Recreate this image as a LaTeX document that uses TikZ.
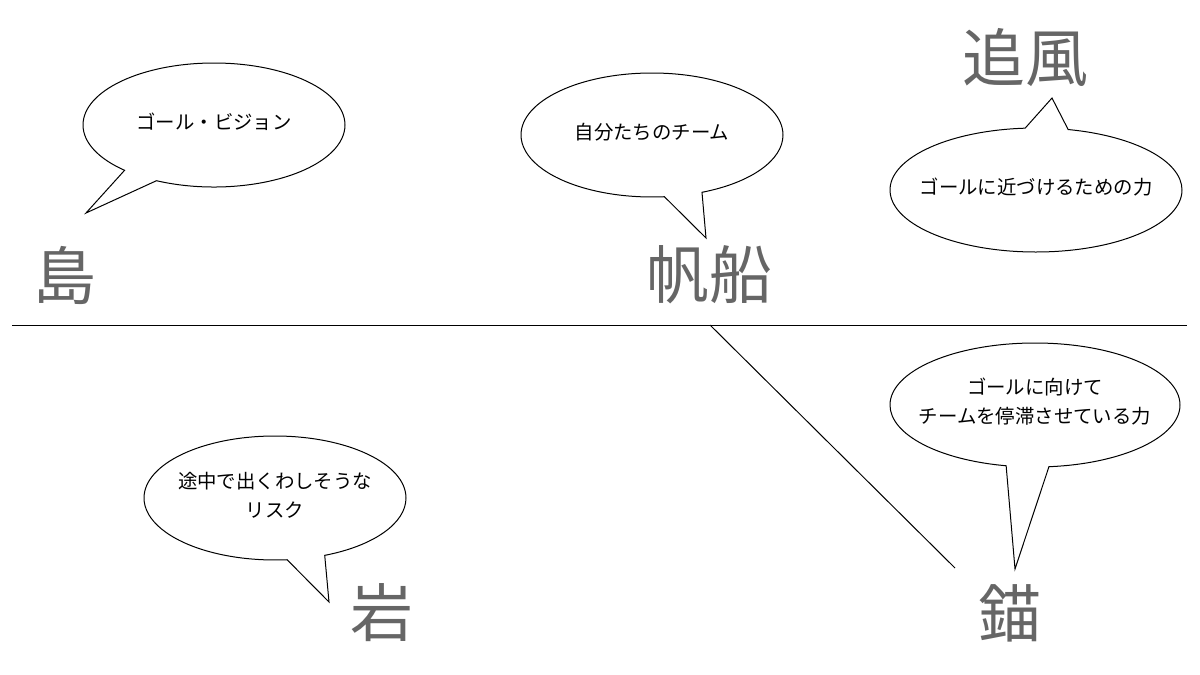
\documentclass[tikz,border=0pt]{standalone}
\usepackage{fontspec}
\setmainfont{Noto Sans CJK JP}
\usepackage{tikz}
\usetikzlibrary{shapes.callouts}
\definecolor{labelgray}{HTML}{666666}

\begin{document}
\begin{tikzpicture}[x=1pt,y=-1pt,line width=1pt,
  bubble/.style={ellipse callout,draw,fill=white,inner sep=0pt,
    minimum width=262pt,minimum height=124pt,callout pointer arc=17},
  say/.style={align=center,inner sep=0pt,yshift=3pt,font=\fontsize{19.4}{29}\selectfont},
  bigword/.style={text=labelgray,font=\fontsize{63}{63}\selectfont}]
\useasboundingbox (0,0) rectangle (1200,675);
% axes
\draw (12,325) -- (1187,325);
\coordinate (fork) at (710,325);
\coordinate (chain) at (955,568);
\draw (fork) -- (chain);
% big words
\node[bigword] (island) at (65,275) {島};
\node[bigword] (ship) at (709,275) {帆船};
\node[bigword] (wind) at (1025,58) {追風};
\node[bigword] (rock) at (382,613) {岩};
\node[bigword] (anchor) at (1010,613) {錨};
% bubbles
\node[bubble,callout absolute pointer={(86,213)},
  label={[say]center:ゴール・ビジョン}] (vision) at (214,125) {};
\node[bubble,callout absolute pointer={(706,238)},
  label={[say]center:自分たちのチーム}] (team) at (652,135) {};
\node[bubble,minimum width=292pt,callout absolute pointer={(1052,98)},
  label={[say]center:ゴールに近づけるための力}] (push) at (1036,190) {};
\node[bubble,minimum width=290pt,callout absolute pointer={(1015,569)},
  label={[say]center:ゴールに向けて\\チームを停滞させている力}] (drag) at (1035,405) {};
\node[bubble,callout absolute pointer={(329,602)},
  label={[say]center:途中で出くわしそうな\\リスク}] (risk) at (275,498) {};
\end{tikzpicture}
\end{document}
